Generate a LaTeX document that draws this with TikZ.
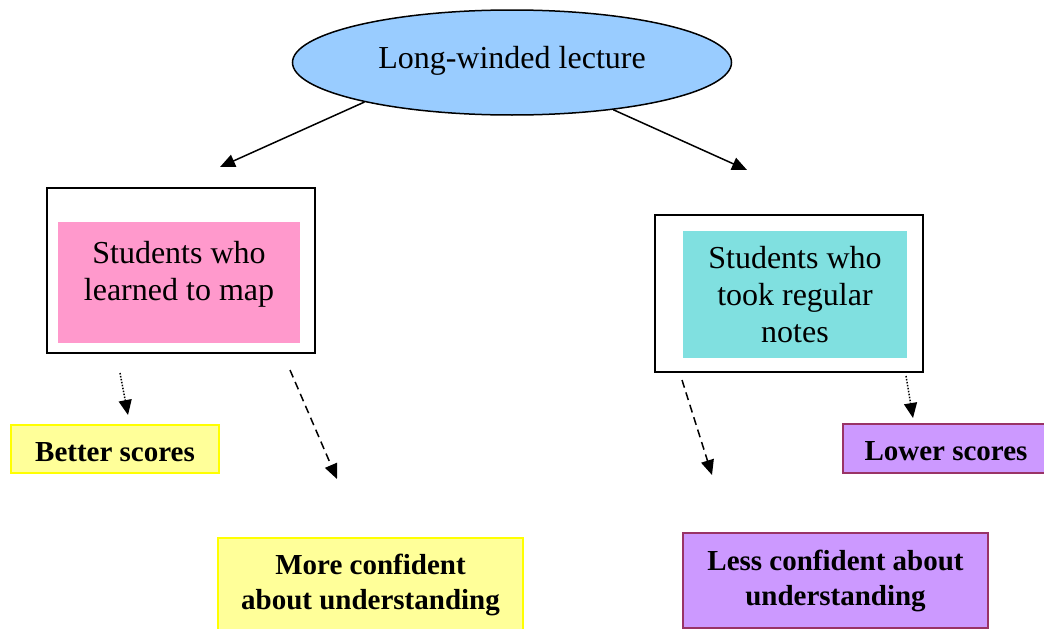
\documentclass[tikz,border=0pt]{standalone}
\usepackage{fontspec}
\setmainfont{Liberation Serif}
\usetikzlibrary{arrows.meta,shapes.geometric}
\definecolor{lecblue}{HTML}{99CCFF}
\definecolor{mappink}{HTML}{FF99CC}
\definecolor{noteteal}{HTML}{80E0E0}
\definecolor{goodfill}{HTML}{FFFF99}
\definecolor{goodline}{HTML}{FFFF00}
\definecolor{badfill}{HTML}{CC99FF}
\definecolor{badline}{HTML}{993366}
\tikzset{
  bodytext/.style={font=\fontsize{32}{37}\selectfont, align=center},
  resultbox/.style={draw, line width=1.5pt, inner sep=0pt, font=\bfseries\fontsize{29}{35}\selectfont, align=center},
  goodbox/.style={resultbox, fill=goodfill, draw=goodline},
  badbox/.style={resultbox, fill=badfill, draw=badline},
  outerframe/.style={draw, line width=2pt, inner sep=0pt},
  arrowline/.style={-{Triangle[length=15pt,width=13pt]}, line width=1.5pt},
  dashline/.style={arrowline, dash pattern=on 8pt off 5pt},
  dotline/.style={arrowline, dash pattern=on 1.5pt off 1.5pt}
}

\begin{document}
\begin{tikzpicture}[x=1pt, y=-1pt]
    \useasboundingbox (0,0) rectangle (1044,629);
    % lecture at the top
    \node[ellipse, draw, line width=1.5pt, fill=lecblue, minimum width=439pt, minimum height=105pt, bodytext, text depth=10pt] (lecture) at (512,62.5) {Long-winded lecture};
    % the two groups
    \node[outerframe, minimum width=268pt, minimum height=165pt] (mapframe) at (181,270.5) {};
    \node[fill=mappink, minimum width=242pt, minimum height=121pt] (mapbox) at (179,282.5) {};
    \node[bodytext] (maptext) at (179,274.5) {Students who\\learned to map};
    \node[outerframe, minimum width=268pt, minimum height=157pt] (noteframe) at (789,293.5) {};
    \node[fill=noteteal, minimum width=224pt, minimum height=127pt, bodytext] (notebox) at (795,294.5) {Students who\\took regular\\notes};
    % outcomes
    \node[goodbox, minimum width=208pt, minimum height=48pt, text height=25pt, text depth=0pt] (betterbox) at (115,449) {Better scores};
    \node[badbox, minimum width=206pt, minimum height=49pt, text height=24pt, text depth=0pt] (lowerbox) at (946,448.5) {Lower scores};
    \node[goodbox, minimum width=305pt, minimum height=93pt] (moreconf) at (370.5,584.5) {More confident\\about understanding};
    \node[badbox, minimum width=305pt, minimum height=95pt] (lessconf) at (835.5,580.5) {Less confident about\\understanding};
    % arrow ends
    \coordinate (maptip) at (220,167);
    \coordinate (notetip) at (747,170);
    \coordinate (betterstart) at (120,373); \coordinate (bettertip) at (128,415);
    \coordinate (morestart) at (290,370);   \coordinate (moretip) at (337,479);
    \coordinate (lessstart) at (682,380);   \coordinate (lesstip) at (712,475);
    \coordinate (lowerstart) at (906,376);  \coordinate (lowertip) at (913,418);
    \draw[arrowline] (lecture.195) -- (maptip);
    \draw[arrowline] (lecture.335) -- (notetip);
    \draw[dotline] (betterstart) -- (bettertip);
    \draw[dashline] (morestart) -- (moretip);
    \draw[dashline] (lessstart) -- (lesstip);
    \draw[dotline] (lowerstart) -- (lowertip);
\end{tikzpicture}
\end{document}
